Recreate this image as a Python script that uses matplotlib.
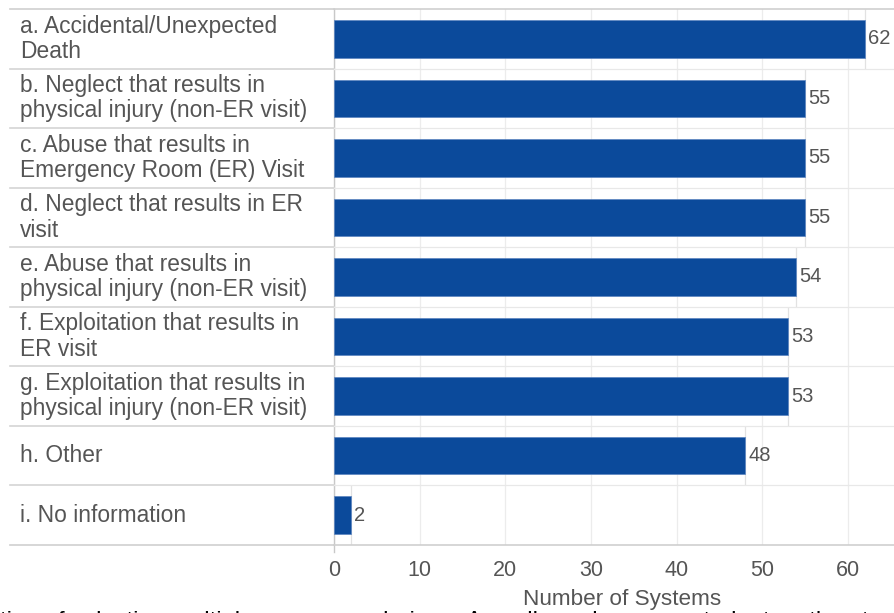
import matplotlib.pyplot as plt
import numpy as np

plt.rcParams['font.family'] = ['Liberation Sans', 'DejaVu Sans']

labels = ['a. Accidental/Unexpected\nDeath',
          'b. Neglect that results in\nphysical injury (non-ER visit)',
          'c. Abuse that results in\nEmergency Room (ER) Visit',
          'd. Neglect that results in ER\nvisit',
          'e. Abuse that results in\nphysical injury (non-ER visit)',
          'f. Exploitation that results in\nER visit',
          'g. Exploitation that results in\nphysical injury (non-ER visit)',
          'h. Other',
          'i. No information']
values = [62, 55, 55, 55, 54, 53, 53, 48, 2]
ticks = [0, 10, 20, 30, 40, 50, 60]

bar_color = '#0b4a9b'
text_color = '#555555'

fig = plt.figure(figsize=(8.94, 6.13), dpi=100)
ax = fig.add_axes([334/894, 1-545/613, 560/894, 536/613])

n = len(labels)
y = np.arange(n)

ax.set_xlim(0, 65.4)
ax.set_ylim(n - 0.5, -0.5)

# grid
for t in ticks:
	ax.axvline(t, color='#ececec', lw=0.9, zorder=0)
ax.plot([0, 0], [-0.5, n - 0.5 + 0.12], color='#c8c8c8', lw=1.0, zorder=1, clip_on=False)

# row end lines
ax.vlines(values, y - 0.5, y + 0.5, color='#e2e2e2', lw=0.9, zorder=0)

ax.barh(y, values, height=0.63, color=bar_color, edgecolor='#5b84c0', lw=0.5, zorder=2)

for i in range(n):
	ax.text(values[i] + 0.35, i, str(values[i]), va='center', ha='left',
	        fontsize=14.5, color=text_color)
	ax.text(-0.5607, i, labels[i], transform=ax.get_yaxis_transform(),
	        va='center', ha='left', fontsize=16.4, color=text_color, linespacing=1.12)

# row separators
x0 = -(334 - 10) / 560
for k in range(n + 1):
	yy = k - 0.5
	edge = k in (0, n)
	ax.plot([x0, 0], [yy, yy], transform=ax.get_yaxis_transform(),
	        color='#cfcfcf' if edge else '#d4d4d4', lw=1.2, clip_on=False)
	ax.plot([0, 1], [yy, yy], transform=ax.get_yaxis_transform(),
	        color='#cfcfcf' if edge else '#e8e8e8', lw=1.2 if edge else 0.9,
	        clip_on=False)

for s in ax.spines.values():
	s.set_visible(False)

ax.set_yticks([])
ax.set_xticks(ticks)
ax.set_xticklabels([str(t) for t in ticks], fontsize=15.5, color=text_color)
ax.tick_params(axis='x', length=0, pad=11)

# page text cut off below the chart
fig.text(0.0, -0.014, 'tion of selecting multiple responses during .  A       ll       d              nted    to    the   t',
         fontsize=17, color='black', va='center', ha='left', zorder=0)

fig.text(622/894, 1 - 600/613, 'Number of Systems', fontsize=16.2, color=text_color,
         ha='center', va='center', zorder=3)

fig.savefig('out.png', dpi=100)
